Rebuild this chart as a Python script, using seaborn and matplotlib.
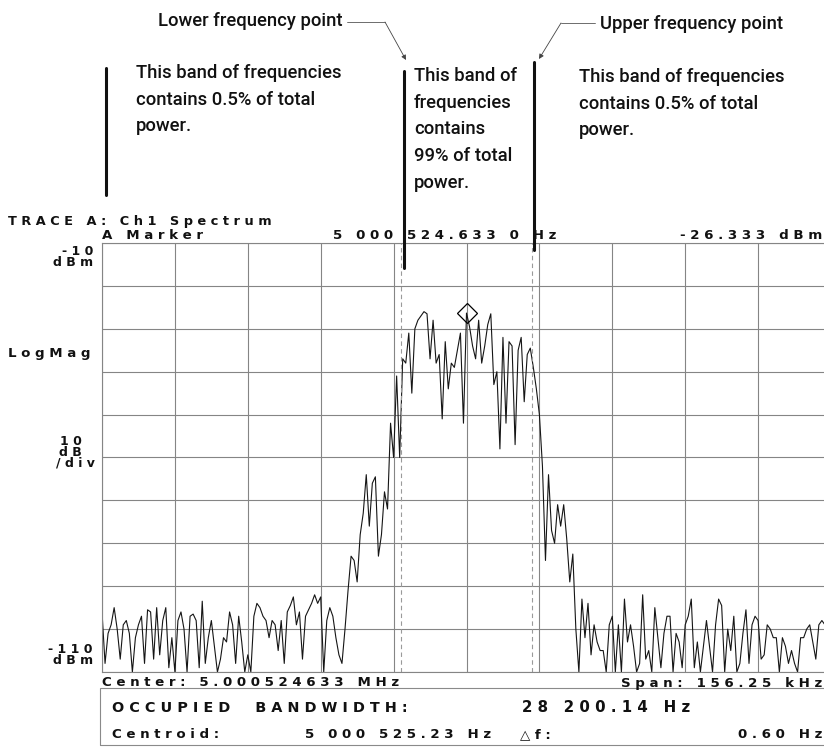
import numpy as np
import pandas as pd
import seaborn as sns
import matplotlib.pyplot as plt
from matplotlib.lines import Line2D
from matplotlib.patches import Rectangle

# analyzer settings shown on the screen
span_khz = 156.25
center_hz = 5000524.633
centroid_hz = 5000525.23
obw_hz = 28200.14
marker_dbm = -26.333
ref_dbm = -10
bottom_dbm = -110
db_per_div = 10

# trace (dBm), 241 sweep points across the span
trace_dbm = [
    -96, -108, -101, -99, -95, -100, -107, -99, -98, -101,
    -110, -102, -99, -97, -108, -95.5, -96, -107, -95, -106,
    -98, -95, -109, -102, -110, -98, -96, -100, -110, -97,
    -96.5, -98, -109, -93.5, -108, -102, -98, -104, -110, -107,
    -102, -103, -96, -99, -108, -97, -103, -110, -106, -110,
    -97, -94, -95, -97, -98, -102, -98, -99, -105, -98,
    -108, -96, -94.5, -92.5, -99, -96, -107, -97, -95.5, -94,
    -92, -94, -92.5, -110, -98, -95, -97, -102, -106, -108,
    -100, -91, -83, -84, -89, -78, -73, -64, -76, -66,
    -64.5, -83, -78, -68, -72, -52, -60, -41, -60, -37,
    -38, -31, -45, -30, -28, -27, -26, -26.5, -37, -28,
    -38, -36, -51, -33, -44, -38, -39, -35, -31, -52,
    -26.333, -29.5, -34, -37, -28, -38, -34, -29, -26.5, -43,
    -40, -58, -32, -52, -33, -34, -57, -35, -32, -47,
    -36, -34.5, -39, -44, -50, -62, -84, -64, -77, -80,
    -71, -76, -71, -79, -89, -82.5, -100, -110, -93, -102,
    -94, -106, -99, -103, -105, -105, -110, -99, -97, -110,
    -99, -110, -93, -103, -99, -104, -110, -108, -92, -107,
    -105, -110, -95, -102, -109, -101, -97, -97, -110, -101,
    -103, -109, -99, -97, -93, -109, -103, -110, -104, -98,
    -104, -110, -99, -93, -94.5, -110, -100, -105, -97, -110,
    -108, -101, -95.5, -108, -99, -97, -98, -107, -106, -99,
    -100, -102, -102, -110, -102, -104, -108, -105, -108, -110,
    -102, -102, -100, -99, -103, -107, -99, -98, -99, -97, -100,
]

freq_khz = np.linspace(-span_khz / 2, span_khz / 2, len(trace_dbm))
df = pd.DataFrame({'freq': freq_khz, 'dbm': trace_dbm})

lower_khz = (centroid_hz - obw_hz / 2 - center_hz) / 1000
upper_khz = (centroid_hz + obw_hz / 2 - center_hz) / 1000

W, H = 824, 747
sns.set_theme(style='white')
plt.rcParams['font.family'] = ['DejaVu Sans']

fig = plt.figure(figsize=(W / 100, H / 100), dpi=100)
ax = fig.add_axes([102 / W, 1 - 672 / H, 729 / W, 429 / H])

sns.lineplot(data=df, x='freq', y='dbm', ax=ax, color='#151515', lw=0.8)
ax.plot(0, marker_dbm, marker='D', ms=10.5, mfc='none', mec='black', mew=0.9)
for f in (lower_khz, upper_khz):
    ax.axvline(f, color='#9a9a9a', lw=0.8, ls=(0, (4, 3)))

ax.set_xlim(-span_khz / 2, span_khz / 2)
ax.set_ylim(bottom_dbm, ref_dbm)
ax.set_xticks(np.linspace(-span_khz / 2, span_khz / 2, 11))
ax.set_yticks(np.arange(bottom_dbm, ref_dbm + 1, db_per_div))
ax.grid(True, color='#858585', lw=0.8)
ax.tick_params(length=0, labelbottom=False, labelleft=False)
ax.set_xlabel('')
ax.set_ylabel('')
for s in ax.spines.values():
    s.set_color('#858585')
    s.set_linewidth(0.8)


def fx(x):
    return x / W


def fy(y):
    return 1 - y / H


def spaced(s):
    return ' '.join(s)


# instrument screen text (bold, wide letter pitch)
scr = dict(fontweight='bold', color='#111111', va='center')
fs = 9.6
fig.text(fx(8), fy(222), spaced('TRACE A: Ch1 Spectrum'), fontsize=9.3, **scr)
fig.text(fx(102), fy(236), spaced('A Marker'), fontsize=fs, **scr)
fig.text(fx(333), fy(236), spaced('5 000 524.633 0 Hz'), fontsize=fs, **scr)
fig.text(fx(822), fy(236), spaced('-26.333 dBm'), fontsize=fs, ha='right', **scr)

# left-hand scale labels, one stacked text each
side = dict(fontsize=9, ha='right', multialignment='right', linespacing=0.78, **scr)
fig.text(fx(93), fy(257), spaced('-10') + '\n' + spaced('dBm'), **side)
fig.text(fx(8), fy(353), spaced('LogMag'), fontsize=fs, **scr)
fig.text(fx(95), fy(452), spaced('10') + '   \n' + spaced('dB') + '   \n' + spaced('/div'), **side)
fig.text(fx(93), fy(655), spaced('-110') + '\n' + spaced('dBm'), **side)

fig.text(fx(102), fy(683), spaced('Center: 5.000524633 MHz'), fontsize=fs, **scr)
fig.text(fx(822), fy(683), spaced('Span: 156.25 kHz'), fontsize=fs, ha='right', **scr)

fig.add_artist(Rectangle((fx(100), fy(745)), fx(740), 57 / H, transform=fig.transFigure,
                         fill=False, ec='#8a8a8a', lw=0.8))
fig.text(fx(112), fy(708), spaced('OCCUPIED  BANDWIDTH:'), fontsize=10.4, **scr)
fig.text(fx(522), fy(708), spaced('28 200.14 Hz'), fontsize=10.8, **scr)
fig.text(fx(112), fy(735), spaced('Centroid:'), fontsize=fs, **scr)
fig.text(fx(305), fy(735), spaced('5 000 525.23 Hz'), fontsize=fs, **scr)
fig.text(fx(520), fy(735), spaced('\u25b3f:'), fontsize=fs, **scr)
fig.text(fx(822), fy(735), spaced('0.60 Hz'), fontsize=fs, ha='right', **scr)

# explanatory annotations above the screen
note = dict(family=['Roboto', 'DejaVu Sans'], fontsize=13.3, fontweight='medium', color='#111111')
body = 'This band of frequencies\ncontains 0.5% of total\npower.'
fig.text(fx(136), fy(64), body, va='top', linespacing=1.62, **note)
fig.text(fx(414), fy(67), 'This band of\nfrequencies\ncontains\n99% of total\npower.',
         va='top', linespacing=1.62, **note)
fig.text(fx(579), fy(68), body, va='top', linespacing=1.62, **note)
fig.text(fx(343), fy(21), 'Lower frequency point', ha='right', va='center', **note)
fig.text(fx(600), fy(24), 'Upper frequency point', ha='left', va='center', **note)

for x, y0, y1 in [(106, 68, 195), (404, 71, 268), (534, 62, 250)]:
    fig.add_artist(Line2D([fx(x), fx(x)], [fy(y0), fy(y1)], color='#111111', lw=2.2))

fig.add_artist(Line2D([fx(347), fx(385)], [fy(22), fy(22)], color='#555555', lw=0.6))
fig.add_artist(Line2D([fx(595), fx(561)], [fy(23), fy(23)], color='#555555', lw=0.6))
ax.annotate('', xy=(fx(406), fy(60)), xytext=(fx(385), fy(22)),
            xycoords='figure fraction', textcoords='figure fraction', annotation_clip=False,
            arrowprops=dict(arrowstyle='-|>', lw=0.6, color='#444444', mutation_scale=7,
                            shrinkA=0, shrinkB=0))
ax.annotate('', xy=(fx(539), fy(59)), xytext=(fx(561), fy(23)),
            xycoords='figure fraction', textcoords='figure fraction', annotation_clip=False,
            arrowprops=dict(arrowstyle='-|>', lw=0.6, color='#444444', mutation_scale=7,
                            shrinkA=0, shrinkB=0))

fig.savefig('out.png', dpi=100)
